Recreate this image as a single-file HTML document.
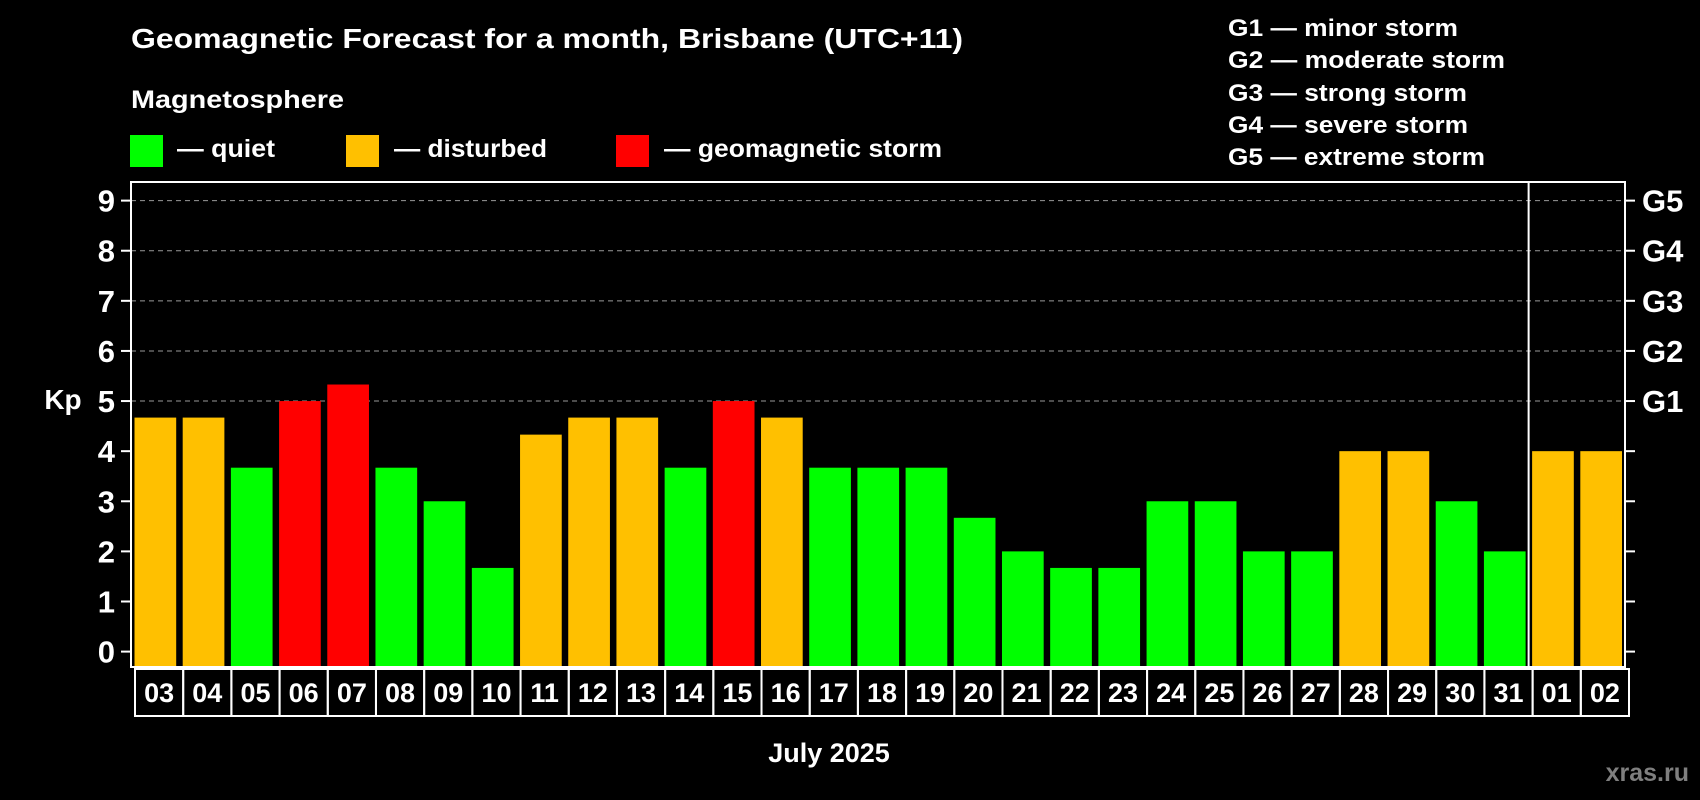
<!DOCTYPE html>
<html><head><meta charset="utf-8"><style>
html,body{margin:0;padding:0;background:#000;}
svg{display:block;font-family:"Liberation Sans",Arial,sans-serif;font-weight:bold;}
</style></head><body>
<svg id="chart" width="1700" height="800" viewBox="0 0 1700 800">
<rect width="1700" height="800" fill="#000"/>
<text x="131" y="48" fill="#fff" font-size="28" textLength="832" lengthAdjust="spacingAndGlyphs">Geomagnetic Forecast for a month, Brisbane (UTC+11)</text>
<text x="131" y="108" fill="#fff" font-size="25" textLength="213" lengthAdjust="spacingAndGlyphs">Magnetosphere</text>
<g>
<rect x="130" y="135" width="33" height="32" fill="#00ff00"/>
<text x="177" y="157" fill="#fff" font-size="25" textLength="98" lengthAdjust="spacingAndGlyphs">— quiet</text>
<rect x="346" y="135" width="33" height="32" fill="#ffc000"/>
<text x="394" y="157" fill="#fff" font-size="25" textLength="153" lengthAdjust="spacingAndGlyphs">— disturbed</text>
<rect x="616" y="135" width="33" height="32" fill="#ff0000"/>
<text x="664" y="157" fill="#fff" font-size="25" textLength="278" lengthAdjust="spacingAndGlyphs">— geomagnetic storm</text>
</g>
<g fill="#fff" font-size="24">
<text x="1228" y="36" textLength="230" lengthAdjust="spacingAndGlyphs">G1 — minor storm</text>
<text x="1228" y="68" textLength="277" lengthAdjust="spacingAndGlyphs">G2 — moderate storm</text>
<text x="1228" y="101" textLength="239" lengthAdjust="spacingAndGlyphs">G3 — strong storm</text>
<text x="1228" y="133" textLength="240" lengthAdjust="spacingAndGlyphs">G4 — severe storm</text>
<text x="1228" y="165" textLength="257" lengthAdjust="spacingAndGlyphs">G5 — extreme storm</text>
</g>
<g id="grid"></g>
<g id="bars"></g>
<g id="axes"></g>
<text x="63" y="409" fill="#fff" font-size="28" text-anchor="middle">Kp</text>
<text x="829" y="762" fill="#fff" font-size="27" text-anchor="middle">July 2025</text>
<text x="1689" y="781" fill="#7f7f7f" font-size="25" text-anchor="end">xras.ru</text>
</svg>
<script>
const days = ["03","04","05","06","07","08","09","10","11","12","13","14","15","16","17","18","19","20","21","22","23","24","25","26","27","28","29","30","31","01","02"];
const kpValues = [4.67,4.67,3.67,5,5.33,3.67,3,1.67,4.33,4.67,4.67,3.67,5,4.67,3.67,3.67,3.67,2.67,2,1.67,1.67,3,3,2,2,4,4,3,2,4,4];
const yTicks = [0,1,2,3,4,5,6,7,8,9];
const gLabels = ["G1","G2","G3","G4","G5"];
const gLevels = [5,6,7,8,9];
const monthBreakIndex = 29;

const NS = "http://www.w3.org/2000/svg";
const L = 131, R = 1625, T = 182, B = 667;
const slot = (R - L) / days.length;
const y = v => 651.6 - v * 50.11;
const xSlot = i => L + i * slot;
function mk(tag, attrs, parent, text) {
  const e = document.createElementNS(NS, tag);
  for (const k in attrs) e.setAttribute(k, attrs[k]);
  if (text !== undefined) e.textContent = text;
  parent.appendChild(e);
  return e;
}
const color = v => v >= 5 ? "#ff0000" : (v >= 4 ? "#ffc000" : "#00ff00");
const grid = document.getElementById("grid");
const bars = document.getElementById("bars");
const axes = document.getElementById("axes");

gLevels.forEach(v => {
  const ln = mk("line", {x1: L, x2: R, y1: y(v), y2: y(v), stroke: "#999", "stroke-width": 1, "stroke-dasharray": "5,4"}, grid);
  
  
});

kpValues.forEach((v, i) => {
  const r = mk("rect", {x: xSlot(i) + 3.5, y: y(v), width: slot - 6.5, height: B - y(v) - 1, fill: color(v)}, bars);
  
  
});

const frame = mk("rect", {x: L, y: T, width: R - L, height: B - T, fill: "none", stroke: "#fff", "stroke-width": 2}, axes);


const sep = mk("line", {x1: xSlot(monthBreakIndex), x2: xSlot(monthBreakIndex), y1: T, y2: B, stroke: "#fff", "stroke-width": 2}, axes);



yTicks.forEach(v => {
  const t1 = mk("line", {x1: 121, x2: L, y1: y(v), y2: y(v), stroke: "#fff", "stroke-width": 2}, axes);
  
  
  const t2 = mk("line", {x1: R, x2: 1635, y1: y(v), y2: y(v), stroke: "#fff", "stroke-width": 2}, axes);
  
  
  const lb = mk("text", {x: 115, y: y(v) + 11, fill: "#fff", "font-size": 31, "text-anchor": "end"}, axes, String(v));
  
  
});
gLabels.forEach((g, i) => {
  const lb = mk("text", {x: 1642, y: y(gLevels[i]) + 11, fill: "#fff", "font-size": 31}, axes, g);
  
  
});

days.forEach((d, i) => {
  const bx = mk("rect", {x: xSlot(i) + 4, y: 669, width: slot, height: 47, fill: "none", stroke: "#fff", "stroke-width": 2}, axes);
  
  
  const lb = mk("text", {x: xSlot(i) + 4 + slot / 2, y: 702, fill: "#fff", "font-size": 27, "text-anchor": "middle"}, axes, d);
  
  
});
</script>
</body></html>
